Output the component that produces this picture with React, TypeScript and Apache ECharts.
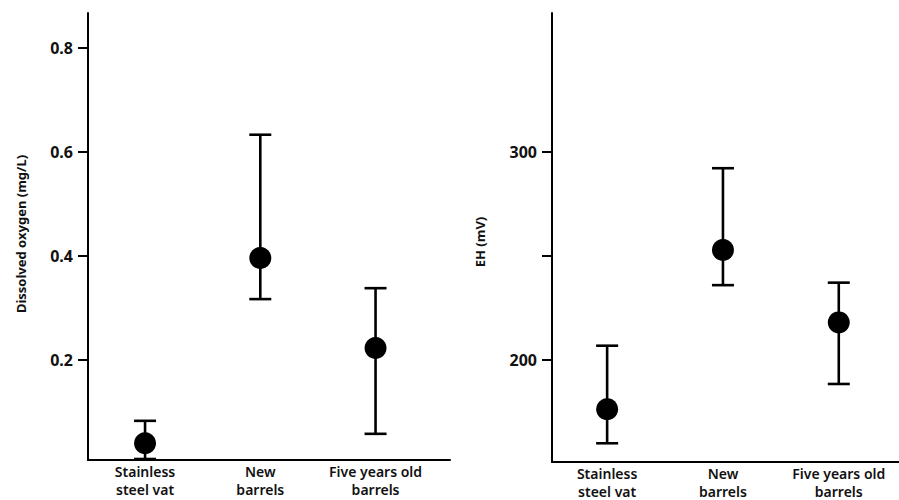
import React, { useEffect, useRef } from "react";
import * as echarts from "echarts";

const categories = ["Stainless\nsteel vat", "New\nbarrels", "Five years old\nbarrels"];

const oxygenMean = [0.04, 0.396, 0.223];
const oxygenLow = [0.0096, 0.317, 0.058];
const oxygenHigh = [0.083, 0.633, 0.338];
const oxygenTicks = [0.2, 0.4, 0.6, 0.8];

const ehMean = [176.4, 252.9, 218.1];
const ehLow = [160, 236, 188.5];
const ehHigh = [206.9, 292.2, 237.2];
const ehTicks = [200, 250, 300];
const ehTickLabels = [200, 300];

const FONT = "'Noto Sans', 'Open Sans', sans-serif";

function errorBarSeries(low: number[], high: number[], axisIndex: number) {
  return {
    type: "custom",
    xAxisIndex: axisIndex,
    yAxisIndex: axisIndex,
    encode: { x: 0, y: [1, 2] },
    data: low.map((l, i) => [i, l, high[i]]),
    z: 2,
    renderItem: (params: any, api: any) => {
      const x = api.value(0);
      const pLo = api.coord([x, api.value(1)]);
      const pHi = api.coord([x, api.value(2)]);
      const hw = 11;
      const st = { stroke: "#000", lineWidth: 2.6 };
      return {
        type: "group",
        children: [
          { type: "line", shape: { x1: pLo[0], y1: pLo[1], x2: pHi[0], y2: pHi[1] }, style: st },
          { type: "line", shape: { x1: pHi[0] - hw, y1: pHi[1], x2: pHi[0] + hw, y2: pHi[1] }, style: st },
          { type: "line", shape: { x1: pLo[0] - hw, y1: pLo[1], x2: pLo[0] + hw, y2: pLo[1] }, style: st },
        ],
      };
    },
  };
}

function meanSeries(values: number[], axisIndex: number) {
  return {
    type: "scatter",
    xAxisIndex: axisIndex,
    yAxisIndex: axisIndex,
    data: values.map((v, i) => [i, v]),
    symbol: "circle",
    symbolSize: 22,
    itemStyle: { color: "#000", opacity: 1 },
    z: 3,
  };
}

function xAxisDef(gridIndex: number, min: number, max: number) {
  return {
    type: "value",
    gridIndex,
    min,
    max,
    axisLine: { show: true, onZero: false, lineStyle: { color: "#000", width: 2 } },
    axisTick: { show: false },
    splitLine: { show: false },
    axisLabel: {
      customValues: [0, 1, 2],
      formatter: (v: number) => categories[Math.round(v)] ?? "",
      fontFamily: FONT,
      fontSize: 14,
      fontWeight: 600,
      lineHeight: 17.5,
      color: "#111",
      margin: 3,
      align: "center",
    },
  };
}

function yAxisDef(gridIndex: number, min: number, max: number, ticks: number[], labels: number[], fmt: (v: number) => string) {
  return {
    type: "value",
    gridIndex,
    min,
    max,
    axisLine: { show: true, onZero: false, lineStyle: { color: "#000", width: 2 } },
    axisTick: { show: true, customValues: ticks, length: 10, lineStyle: { color: "#000", width: 2 } },
    splitLine: { show: false },
    axisLabel: {
      customValues: labels,
      formatter: fmt,
      fontFamily: FONT,
      fontSize: 16,
      fontWeight: 700,
      color: "#111",
      margin: 15,
    },
  };
}

export default function App() {
  const ref = useRef<HTMLDivElement>(null);
  useEffect(() => {
    if (!ref.current) return;
    const chart = echarts.init(ref.current, null, { renderer: "svg" });
    chart.setOption({
      animation: false,
      backgroundColor: "#fff",
      grid: [
        { left: 88, top: 13, width: 362, bottom: 40 },
        { left: 552, top: 13, width: 347, bottom: 38 },
      ],
      xAxis: [xAxisDef(0, -0.495, 2.646), xAxisDef(1, -0.476, 2.52)],
      yAxis: [
        yAxisDef(0, 0.0077, 0.867, oxygenTicks, oxygenTicks, (v: number) => v.toFixed(1)),
        yAxisDef(1, 151, 366.8, ehTicks, ehTickLabels, (v: number) => String(Math.round(v))),
      ],
      graphic: [
        {
          type: "text",
          x: 21,
          y: 234,
          rotation: Math.PI / 2,
          style: {
            text: "Dissolved oxygen (mg/L)",
            fontFamily: FONT,
            fontSize: 13,
            fontWeight: 700,
            fill: "#111",
            align: "center",
            verticalAlign: "middle",
          },
        },
        {
          type: "text",
          x: 480,
          y: 242,
          rotation: Math.PI / 2,
          style: {
            text: "EH (mV)",
            fontFamily: FONT,
            fontSize: 13,
            fontWeight: 700,
            fill: "#111",
            align: "center",
            verticalAlign: "middle",
          },
        },
      ],
      series: [
        errorBarSeries(oxygenLow, oxygenHigh, 0),
        meanSeries(oxygenMean, 0),
        errorBarSeries(ehLow, ehHigh, 1),
        meanSeries(ehMean, 1),
      ],
    });
    return () => chart.dispose();
  }, []);
  return (
    <div
      ref={ref}
      style={{ position: "fixed", left: 0, top: 0, width: 899, height: 500 }}
    />
  );
}
